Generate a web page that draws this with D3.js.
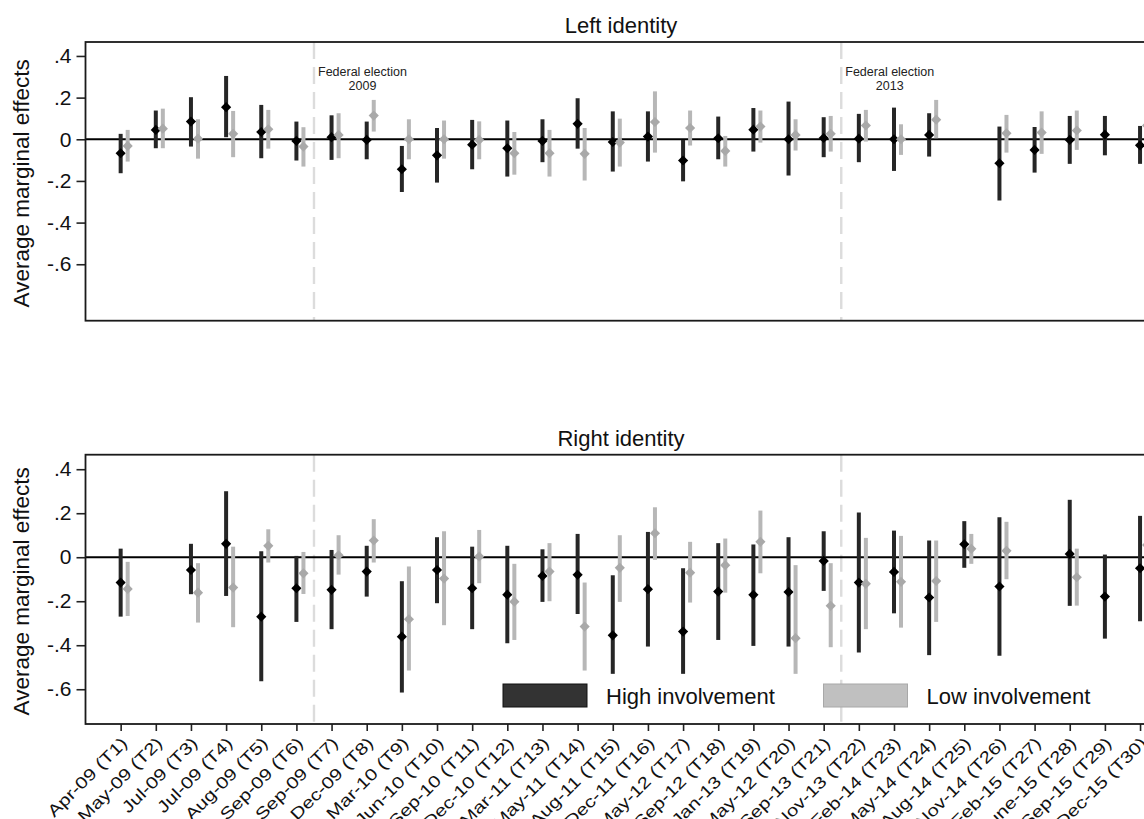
<!DOCTYPE html>
<html>
<head>
<meta charset="utf-8">
<script src="https://cdn.jsdelivr.net/npm/d3@7"></script>
<style>
  body { margin: 0; background: #fff; }
  svg { display: block; font-family: "Liberation Sans", Arial, sans-serif; }
</style>
</head>
<body>
<svg id="chart" width="1144" height="819"></svg>
<script>
// Survey waves (x categories)
const periods = ["Apr-09 (T1)", "May-09 (T2)", "Jul-09 (T3)", "Jul-09 (T4)", "Aug-09 (T5)", "Sep-09 (T6)",
  "Sep-09 (T7)", "Dec-09 (T8)", "Mar-10 (T9)", "Jun-10 (T10)", "Sep-10 (T11)", "Dec-10 (T12)",
  "Mar-11 (T13)", "May-11 (T14)", "Aug-11 (T15)", "Dec-11 (T16)", "May-12 (T17)", "Sep-12 (T18)",
  "Jan-13 (T19)", "May-12 (T20)", "Sep-13 (T21)", "Nov-13 (T22)", "Feb-14 (T23)", "May-14 (T24)",
  "Aug-14 (T25)", "Nov-14 (T26)", "Feb-15 (T27)", "June-15 (T28)", "Sep-15 (T29)", "Dec-15 (T30)"];

// Left identity - high involvement
const leftHighEst = [-0.067, 0.045, 0.085, 0.154, 0.035, -0.008, 0.010, -0.003, -0.144, -0.077, -0.026, -0.043, -0.008, 0.074, -0.013,
  0.013, -0.102, 0.005, 0.046, 0.000, 0.006, 0.003, 0.000, 0.021, null, -0.115, -0.051, -0.003, 0.022, -0.029];
const leftHighLo = [-0.163, -0.043, -0.035, 0.010, -0.091, -0.102, -0.099, -0.096, -0.253, -0.208, -0.144, -0.179, -0.110, -0.045, -0.155,
  -0.107, -0.202, -0.096, -0.059, -0.174, -0.086, -0.110, -0.152, -0.083, null, -0.294, -0.160, -0.118, -0.077, -0.118];
const leftHighHi = [0.026, 0.138, 0.202, 0.304, 0.165, 0.085, 0.115, 0.085, -0.032, 0.054, 0.093, 0.090, 0.096, 0.197, 0.134,
  0.134, -0.003, 0.109, 0.150, 0.181, 0.106, 0.122, 0.152, 0.125, null, 0.061, 0.059, 0.112, 0.112, 0.064];

// Left identity - low involvement
const leftLowEst = [-0.032, 0.051, 0.003, 0.026, 0.048, -0.035, 0.021, 0.114, 0.000, 0.000, -0.003, -0.067, -0.067, -0.070, -0.016,
  0.083, 0.054, -0.056, 0.061, 0.021, 0.026, 0.066, 0.000, 0.094, null, 0.029, 0.032, 0.042, null, 0.066];
const leftLowLo = [-0.107, -0.043, -0.093, -0.086, -0.045, -0.131, -0.091, 0.037, -0.096, -0.093, -0.096, -0.170, -0.179, -0.198, -0.131,
  -0.064, -0.030, -0.131, -0.016, -0.054, -0.059, -0.011, -0.075, 0.005, null, -0.064, -0.070, -0.051, null, -0.030];
const leftLowHi = [0.045, 0.147, 0.096, 0.136, 0.141, 0.058, 0.125, 0.189, 0.096, 0.090, 0.086, 0.035, 0.045, 0.054, 0.099,
  0.230, 0.138, 0.016, 0.138, 0.096, 0.112, 0.141, 0.072, 0.189, null, 0.117, 0.134, 0.138, null, 0.160];

// Right identity - high involvement
const rightHighEst = [-0.115, null, -0.058, 0.061, -0.270, -0.141, -0.148, -0.065, -0.361, -0.058, -0.141, -0.170, -0.085, -0.080, -0.355,
  -0.145, -0.338, -0.156, -0.171, -0.158, -0.017, -0.115, -0.067, -0.183, 0.059, -0.133, null, 0.015, -0.179, -0.050];
const rightHighLo = [-0.270, null, -0.168, -0.176, -0.564, -0.294, -0.327, -0.179, -0.615, -0.209, -0.327, -0.391, -0.203, -0.258, -0.530,
  -0.406, -0.530, -0.376, -0.403, -0.406, -0.153, -0.433, -0.255, -0.445, -0.048, -0.448, null, -0.221, -0.370, -0.291];
const rightHighHi = [0.039, null, 0.061, 0.300, 0.027, 0.006, 0.033, 0.052, -0.109, 0.091, 0.048, 0.052, 0.036, 0.106, -0.082,
  0.115, -0.050, 0.064, 0.058, 0.091, 0.118, 0.203, 0.121, 0.076, 0.164, 0.182, null, 0.261, 0.012, 0.188];

// Right identity - low involvement
const rightLowEst = [-0.144, null, -0.161, -0.138, 0.052, -0.073, 0.009, 0.076, -0.282, -0.097, 0.003, -0.202, -0.065, -0.315, -0.048,
  0.109, -0.070, -0.036, 0.070, -0.368, -0.221, -0.121, -0.112, -0.108, 0.038, 0.029, null, -0.091, null, 0.056];
const rightLowLo = [-0.267, null, -0.297, -0.318, -0.024, -0.167, -0.079, -0.024, -0.515, -0.309, -0.118, -0.376, -0.200, -0.515, -0.203,
  -0.012, -0.206, -0.161, -0.073, -0.530, -0.409, -0.327, -0.320, -0.294, -0.030, -0.100, null, -0.220, null, -0.050];
const rightLowHi = [-0.021, null, -0.027, 0.048, 0.127, 0.024, 0.100, 0.173, -0.042, 0.118, 0.124, -0.030, 0.064, -0.115, 0.100,
  0.227, 0.070, 0.085, 0.212, -0.036, -0.027, 0.088, 0.097, 0.076, 0.106, 0.161, null, 0.039, null, 0.160];

const yTickValues = [0.4, 0.2, 0, -0.2, -0.4, -0.6];
const yTickLabels = [".4", ".2", "0", "-.2", "-.4", "-.6"];
const seriesNames = ["High involvement", "Low involvement"];
const electionWaves = [6.5, 21.5];            // between T6/T7 and T21/T22
const electionNotes = [["Federal election", "2009"], ["Federal election", "2013"]];

const svg = d3.select('#chart');
const left = 85.5, right = 1175.2;
const x = d3.scaleLinear().domain([0, 31]).range([left, right]);
const lowOffset = 0.2;   // low involvement drawn a bit to the right

const colors = {
  highBar: '#262626', highDot: '#000000',
  lowBar: '#b7b7b7', lowDot: '#a9a9a9'
};

function toPoints(est, lo, hi, shift) {
  return est.map((v, i) => ({ i: i + 1 + shift, v: v, lo: lo[i], hi: hi[i] }))
    .filter(d => d.v !== null);
}

// Stata draws its text a little wider than Arial, so widen the glyphs
function widen(sel, k) {
  sel.each(function () {
    const w = this.getComputedTextLength();
    d3.select(this).attr('textLength', w * k).attr('lengthAdjust', 'spacingAndGlyphs');
  });
}

function drawPanel(cfg) {
  const y = d3.scaleLinear().domain(cfg.domain).range([cfg.bottom, cfg.top]);
  const g = svg.append('g');

  // title
  g.append('text')
    .attr('x', 621).attr('y', cfg.top - 9)
    .attr('text-anchor', 'middle')
    .attr('font-size', 22)
    .attr('fill', '#111')
    .text(cfg.title);

  // election markers
  electionWaves.forEach((w, k) => {
    g.append('line')
      .attr('x1', x(w)).attr('x2', x(w))
      .attr('y1', cfg.top).attr('y2', cfg.bottom)
      .attr('stroke', '#dcdcdc').attr('stroke-width', 2.4)
      .attr('stroke-dasharray', '17,8');
    if (cfg.notes) {
      const t = g.append('text')
        .attr('x', x(w) + 48.5).attr('y', cfg.top + 34)
        .attr('text-anchor', 'middle')
        .attr('font-size', 12.5)
        .attr('fill', '#222');
      t.append('tspan').attr('x', x(w) + 48.5).text(electionNotes[k][0]);
      t.append('tspan').attr('x', x(w) + 48.5).attr('dy', 13.5).text(electionNotes[k][1]);
    }
  });

  // zero line
  g.append('line')
    .attr('x1', left).attr('x2', right)
    .attr('y1', y(0)).attr('y2', y(0))
    .attr('stroke', '#000').attr('stroke-width', 2);

  // y axis
  const yAxis = g.append('g')
    .attr('transform', 'translate(' + left + ',0)')
    .call(d3.axisLeft(y).tickValues(yTickValues).tickSize(9).tickPadding(5)
      .tickFormat((d, i) => yTickLabels[i]));
  yAxis.select('.domain').remove();
  yAxis.selectAll('line').attr('stroke', '#222').attr('stroke-width', 1.6);
  yAxis.selectAll('text').attr('font-size', 21).attr('fill', '#111')
    .attr('font-family', '"Liberation Sans", Arial, sans-serif');

  // y label
  g.append('text')
    .attr('transform', 'translate(29,' + ((cfg.top + cfg.bottom) / 2 + 2) + ') rotate(-90)')
    .attr('text-anchor', 'middle')
    .attr('font-size', 22.5)
    .attr('fill', '#111')
    .text('Average marginal effects');

  // x axis (bottom panel only)
  if (cfg.xAxis) {
    const xAxis = g.append('g')
      .attr('transform', 'translate(0,' + cfg.bottom + ')')
      .call(d3.axisBottom(x).tickValues(d3.range(1, 31)).tickSize(7)
        .tickFormat(d => periods[d - 1]));
    xAxis.select('.domain').remove();
    xAxis.selectAll('line').attr('stroke', '#222').attr('stroke-width', 1.6);
    xAxis.selectAll('text')
      .attr('font-size', 16.5).attr('fill', '#111')
      .attr('font-family', '"Liberation Sans", Arial, sans-serif')
      .attr('text-anchor', 'end')
      .attr('x', 0).attr('y', 0)
      .attr('dy', '0.35em')
      .attr('transform', 'translate(3,16) rotate(-45)')
      .call(widen, 1.24);
  }

  // error bars and markers
  const series = [
    { pts: toPoints(cfg.highEst, cfg.highLo, cfg.highHi, 0), bar: colors.highBar, dot: colors.highDot },
    { pts: toPoints(cfg.lowEst, cfg.lowLo, cfg.lowHi, lowOffset), bar: colors.lowBar, dot: colors.lowDot }
  ];
  const diamond = d3.symbol().type(d3.symbolSquare).size(52);
  series.forEach(s => {
    g.selectAll(null).data(s.pts).enter().append('line')
      .attr('x1', d => x(d.i)).attr('x2', d => x(d.i))
      .attr('y1', d => y(d.lo)).attr('y2', d => y(d.hi))
      .attr('stroke', s.bar).attr('stroke-width', 4);
    g.selectAll(null).data(s.pts).enter().append('path')
      .attr('d', diamond)
      .attr('transform', d => 'translate(' + x(d.i) + ',' + y(d.v) + ') rotate(45)')
      .attr('fill', s.dot);
  });

  // frame
  g.append('rect')
    .attr('x', left).attr('y', cfg.top)
    .attr('width', right - left).attr('height', cfg.bottom - cfg.top)
    .attr('fill', 'none').attr('stroke', '#1a1a1a').attr('stroke-width', 1.8);

  return y;
}

drawPanel({
  title: 'Left identity', top: 42, bottom: 320.7, domain: [-0.871, 0.467], notes: true, xAxis: false,
  highEst: leftHighEst, highLo: leftHighLo, highHi: leftHighHi,
  lowEst: leftLowEst, lowLo: leftLowLo, lowHi: leftLowHi
});

drawPanel({
  title: 'Right identity', top: 454.7, bottom: 724, domain: [-0.758, 0.466], notes: false, xAxis: true,
  highEst: rightHighEst, highLo: rightHighLo, highHi: rightHighHi,
  lowEst: rightLowEst, lowLo: rightLowLo, lowHi: rightLowHi
});

// legend inside the bottom panel
const legend = svg.append('g');
const legendItems = [
  { x: 503, fill: '#333333', stroke: '#111111' },
  { x: 823.5, fill: '#c0c0c0', stroke: '#a8a8a8' }
];
legendItems.forEach((it, k) => {
  legend.append('rect')
    .attr('x', it.x).attr('y', 684)
    .attr('width', 84).attr('height', 23)
    .attr('fill', it.fill).attr('stroke', it.stroke).attr('stroke-width', 1);
  legend.append('text')
    .attr('x', it.x + 103).attr('y', 703.5)
    .attr('font-size', 22)
    .attr('fill', '#111')
    .text(seriesNames[k]);
});
</script>
</body>
</html>
